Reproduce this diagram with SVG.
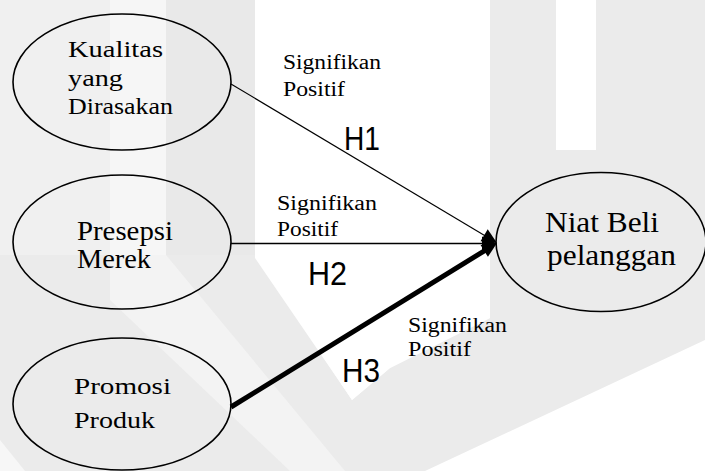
<svg xmlns="http://www.w3.org/2000/svg" width="705" height="471" viewBox="0 0 705 471">
  <style>
    .node { fill: none; stroke: #000; stroke-width: 1.6; }
    .lbl { font-family: "Liberation Serif", "Times New Roman", serif; fill: #000; }
    .edge-lbl { font-family: "Liberation Serif", "Times New Roman", serif; font-size: 20.5px; fill: #000; }
    .hyp { font-family: "Liberation Sans", Arial, sans-serif; font-size: 33px; fill: #000; }
    .wm { stroke: none; }
  </style>
  <defs>
    <marker id="head" markerUnits="userSpaceOnUse" markerWidth="22" markerHeight="18" viewBox="-4 -9 20 18" refX="0" refY="0" orient="auto">
      <path d="M-3,-7 L12,0 L-3,7 Z" fill="#000"/>
    </marker>
  </defs>

  <!-- faint background watermark -->
  <g id="watermark">
    <rect x="0" y="0" width="705" height="471" fill="#ffffff"/>
    <rect class="wm" x="0" y="0" width="110" height="300" fill="#f0f0f0"/>
    <rect class="wm" x="110" y="0" width="56" height="300" fill="#f6f6f6"/>
    <rect class="wm" x="166" y="0" width="89" height="300" fill="#e9e9e9"/>
    <polygon class="wm" points="0,255 255,255 352,400 390,368 490,318 490,0 556,0 556,150 596,150 596,0 705,0 705,340 425,471 0,471" fill="#ebebeb"/>
    <polygon class="wm" points="255,0 490,0 490,318 390,368 352,400 255,258" fill="#ffffff"/>
    <polygon class="wm" points="110,255 166,255 345,471 290,471 110,300" fill="#f3f3f3"/>
    <polygon class="wm" points="0,440 25,471 0,471" fill="#f7f7f7"/>
  </g>

  <!-- connectors -->
  <g id="connectors" stroke="#000" fill="none">
    <line x1="231" y1="84" x2="486.7" y2="236.8" stroke-width="1.1" marker-end="url(#head)"/>
    <line x1="231" y1="243.5" x2="485" y2="243.5" stroke-width="1.4" marker-end="url(#head)"/>
    <line x1="231" y1="407" x2="486.8" y2="249.3" stroke-width="5" marker-end="url(#head)"/>
  </g>

  <!-- edge labels -->
  <g id="edge-labels">
    <text class="edge-lbl" x="283" y="69" textLength="98" lengthAdjust="spacingAndGlyphs">Signifikan</text>
    <text class="edge-lbl" x="283" y="96" textLength="62" lengthAdjust="spacingAndGlyphs">Positif</text>
    <text class="hyp" x="344" y="150" textLength="36" lengthAdjust="spacingAndGlyphs">H1</text>

    <text class="edge-lbl" x="277" y="210" textLength="100" lengthAdjust="spacingAndGlyphs">Signifikan</text>
    <text class="edge-lbl" x="277" y="236" textLength="61" lengthAdjust="spacingAndGlyphs">Positif</text>
    <text class="hyp" x="308" y="285" textLength="39" lengthAdjust="spacingAndGlyphs">H2</text>

    <text class="edge-lbl" x="408" y="332" textLength="99" lengthAdjust="spacingAndGlyphs">Signifikan</text>
    <text class="edge-lbl" x="408" y="356" textLength="63" lengthAdjust="spacingAndGlyphs">Positif</text>
    <text class="hyp" x="342" y="382" textLength="38" lengthAdjust="spacingAndGlyphs">H3</text>
  </g>

  <g id="kualitas">
    <ellipse class="node" cx="122" cy="82" rx="109" ry="68"/>
    <text class="lbl" font-size="22.5" x="68" y="57" textLength="95" lengthAdjust="spacingAndGlyphs">Kualitas</text>
    <text class="lbl" font-size="22.5" x="68" y="86" textLength="55" lengthAdjust="spacingAndGlyphs">yang</text>
    <text class="lbl" font-size="22.5" x="68" y="114" textLength="105" lengthAdjust="spacingAndGlyphs">Dirasakan</text>
  </g>

  <g id="presepsi">
    <ellipse class="node" cx="122" cy="242" rx="109" ry="67"/>
    <text class="lbl" font-size="27" x="77" y="240" textLength="96" lengthAdjust="spacingAndGlyphs">Presepsi</text>
    <text class="lbl" font-size="27" x="77" y="268" textLength="74" lengthAdjust="spacingAndGlyphs">Merek</text>
  </g>

  <g id="promosi">
    <ellipse class="node" cx="122" cy="404" rx="109" ry="66"/>
    <text class="lbl" font-size="24" x="74" y="394" textLength="97" lengthAdjust="spacingAndGlyphs">Promosi</text>
    <text class="lbl" font-size="24" x="74" y="428" textLength="81" lengthAdjust="spacingAndGlyphs">Produk</text>
  </g>

  <g id="niat-beli">
    <ellipse class="node" cx="601" cy="242" rx="105" ry="69.5"/>
    <text class="lbl" font-size="28.5" x="545" y="232" textLength="114" lengthAdjust="spacingAndGlyphs">Niat Beli</text>
    <text class="lbl" font-size="29" x="547" y="265" textLength="129" lengthAdjust="spacingAndGlyphs">pelanggan</text>
  </g>
</svg>
